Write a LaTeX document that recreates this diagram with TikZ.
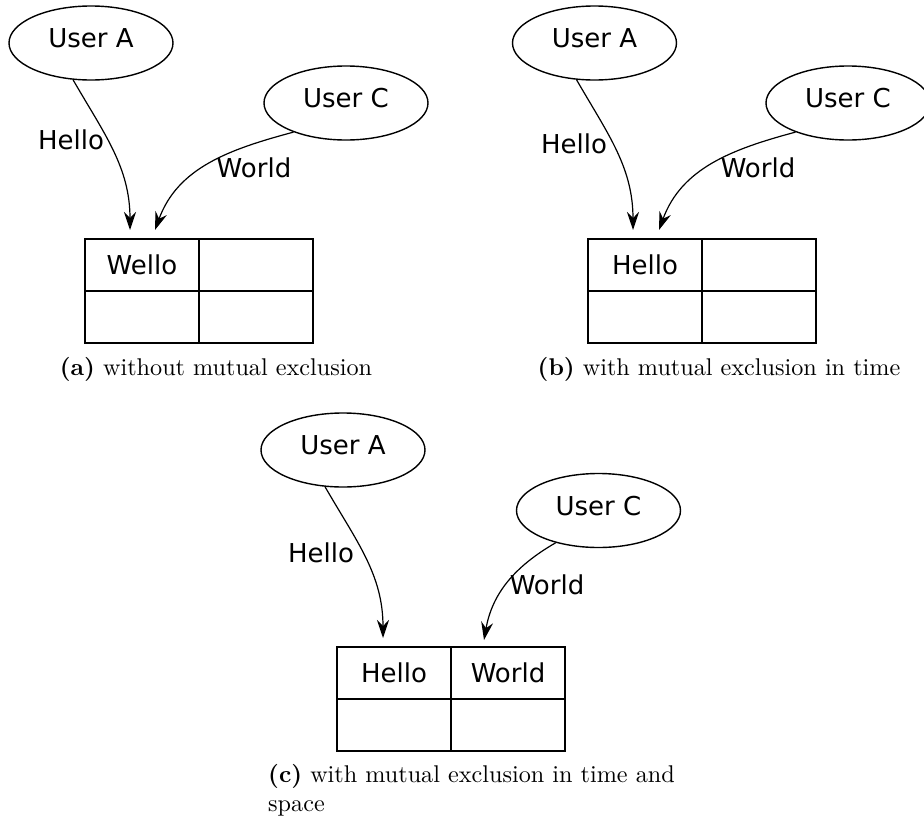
\documentclass[tikz,border=0pt]{standalone}
\usepackage{fontspec}
\setmainfont{lmroman10-regular.otf}[BoldFont=lmroman10-bold.otf]
\newfontfamily\diagfont{DejaVu Sans}
\usetikzlibrary{arrows.meta,positioning,shapes.geometric}

\begin{document}
\begin{tikzpicture}[x=1pt,y=1pt,
  user/.style={draw,ellipse,line width=1.4pt,minimum width=164pt,minimum height=74pt,
    font=\diagfont\fontsize{26}{31}\selectfont,text depth=10pt},
  cell/.style={draw,rectangle,line width=1.8pt,minimum width=114pt,minimum height=52pt,
    inner sep=0pt,outer sep=0pt,font=\diagfont\fontsize{26}{31}\selectfont},
  msg/.style={font=\diagfont\fontsize{26}{31}\selectfont},
  send/.style={-{Stealth[length=18pt,width=12pt,inset=6pt]},line width=1.2pt},
  subcap/.style={font=\fontsize{24.2}{29}\selectfont,inner sep=0pt}]
  \useasboundingbox (0,0) rectangle (924,-817);

  % (a) without mutual exclusion
  \node[user] (userAa) at (91,-43) {User A};
  \node[user] (userCa) at (346,-103) {User C};
  \node[cell] (a11) at (142,-265) {Wello};
  \node[cell,right=0pt of a11] (a12) {};
  \node[cell,below=0pt of a11] (a21) {};
  \node[cell,right=0pt of a21] (a22) {};
  \coordinate (hitHa) at (130,-230);
  \coordinate (hitWa) at (155,-230);
  \draw[send] (userAa.244) to[out=-60,in=90] (hitHa);
  \draw[send] (userCa.209) to[out=195,in=70] (hitWa);
  \node[msg] (helloa) at (71,-140) {Hello};
  \node[msg] (worlda) at (254,-168) {World};
  \node[subcap,anchor=base] (capa) at (216,-375) {\textbf{(a)} without mutual exclusion};

  % (b) mutual exclusion in time
  \node[user] (userAb) at (594.5,-43) {User A};
  \node[user] (userCb) at (848,-103) {User C};
  \node[cell] (b11) at (645,-265) {Hello};
  \node[cell,right=0pt of b11] (b12) {};
  \node[cell,below=0pt of b11] (b21) {};
  \node[cell,right=0pt of b21] (b22) {};
  \coordinate (hitHb) at (633,-230);
  \coordinate (hitWb) at (659,-230);
  \draw[send] (userAb.244) to[out=-60,in=90] (hitHb);
  \draw[send] (userCb.209) to[out=195,in=70] (hitWb);
  \node[msg] (hellob) at (574,-144) {Hello};
  \node[msg] (worldb) at (758,-168) {World};
  \node[subcap,anchor=base] (capb) at (719,-375) {\textbf{(b)} with mutual exclusion in time};

  % (c) mutual exclusion in time and space
  \node[user] (userAc) at (343,-450) {User A};
  \node[user] (userCc) at (598.5,-510.5) {User C};
  \node[cell] (c11) at (394,-673) {Hello};
  \node[cell,right=0pt of c11] (c12) {World};
  \node[cell,below=0pt of c11] (c21) {};
  \node[cell,right=0pt of c21] (c22) {};
  \coordinate (hitHc) at (383,-638);
  \coordinate (hitWc) at (484,-640);
  \draw[send] (userAc.244) to[out=-60,in=90] (hitHc);
  \draw[send] (userCc.217) to[out=210,in=80] (hitWc);
  \node[msg] (helloc) at (321,-553) {Hello};
  \node[msg] (worldc) at (547,-585) {World};
  \node[subcap,anchor=north west,align=left] (capc) at (268,-763.8)
    {\textbf{(c)} with mutual exclusion in time and\\space};
\end{tikzpicture}
\end{document}
